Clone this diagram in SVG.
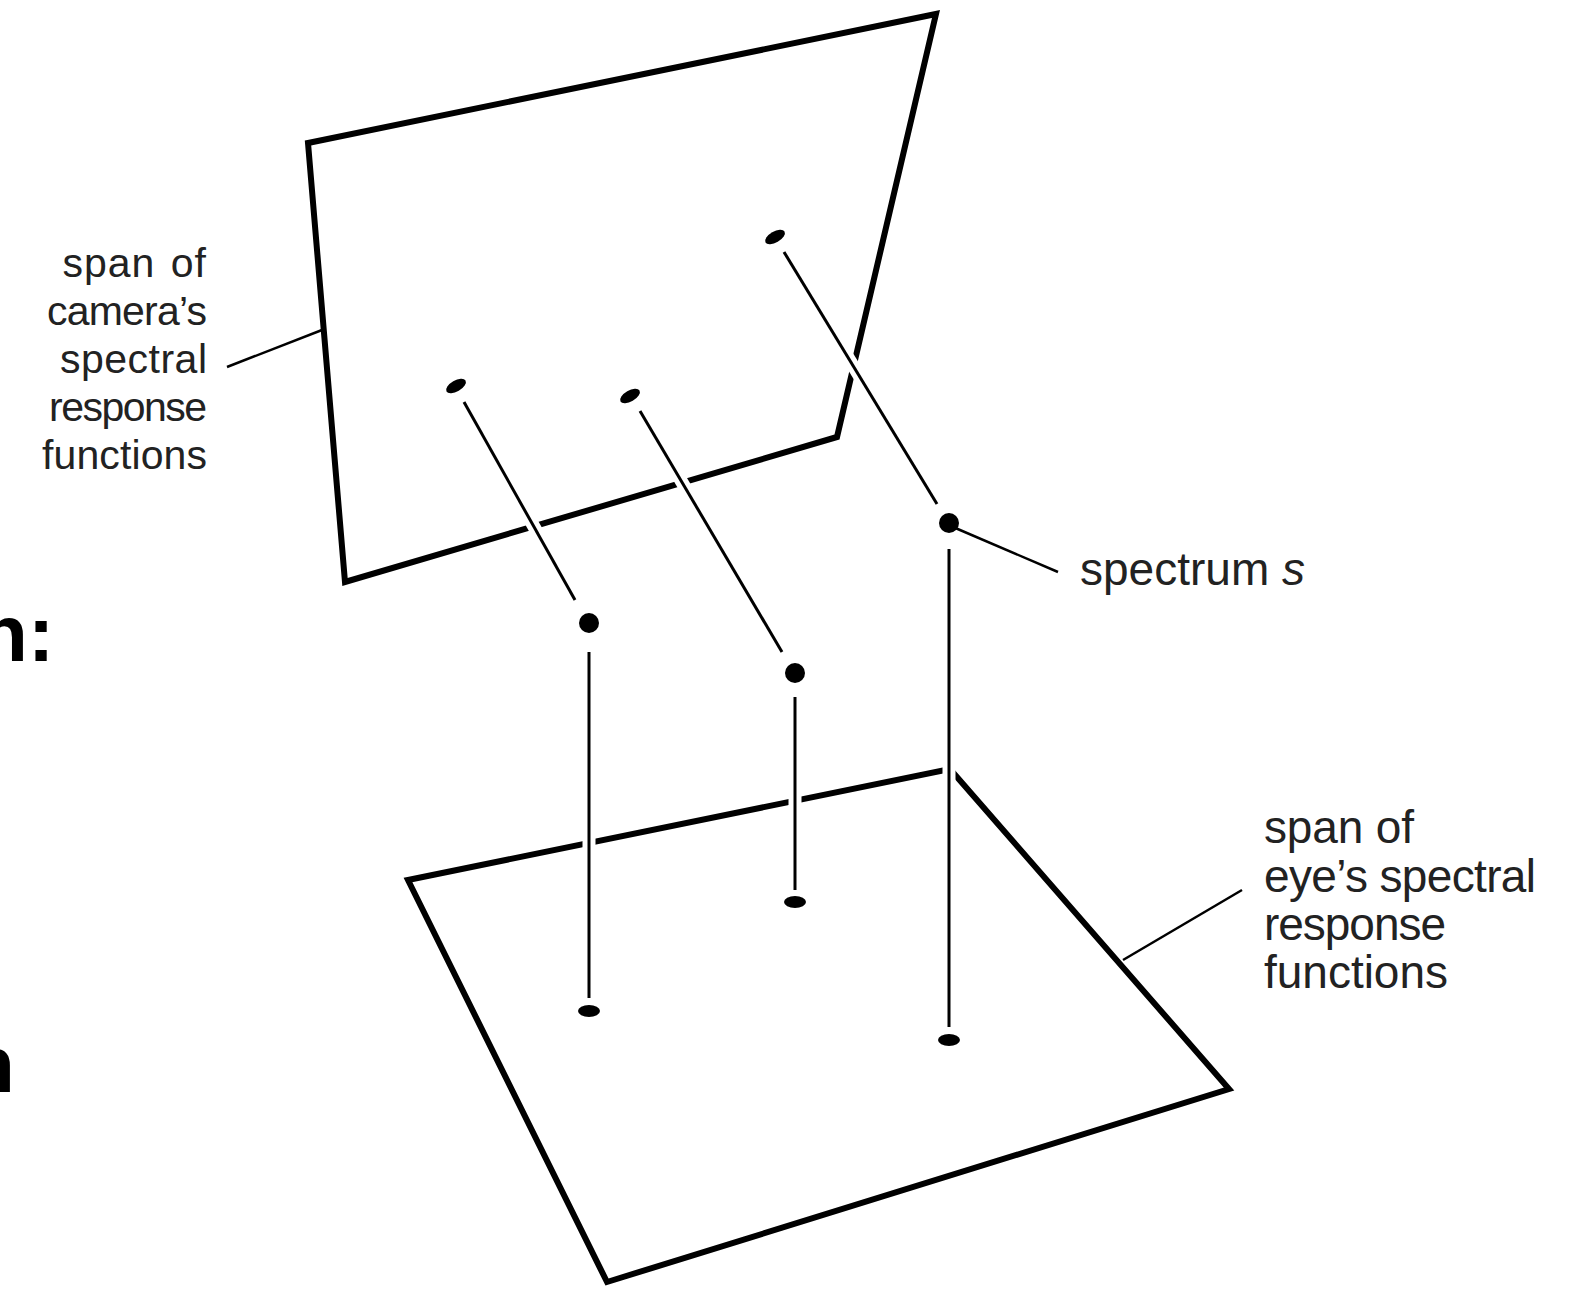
<svg xmlns="http://www.w3.org/2000/svg" width="1571" height="1289" viewBox="0 0 1571 1289">
<style>
.plane{fill:none;stroke:#000;stroke-width:6;stroke-linejoin:miter;stroke-miterlimit:10}
.halo{stroke:#fff;stroke-width:13;fill:none}
.ln{stroke:#000;stroke-width:3;fill:none}
.lead{stroke:#000;stroke-width:2.5;fill:none}
.lbl{font-family:"Liberation Sans",Arial,sans-serif;font-size:41px;fill:#222}
.lbl2{font-family:"Liberation Sans",Arial,sans-serif;font-size:46px;fill:#222}
.big{font-family:"Liberation Sans",Arial,sans-serif;font-size:80px;font-weight:bold;fill:#000}
</style>
<rect width="1571" height="1289" fill="#fff"/>
<text class="big" x="-21" y="661">n:</text>
<text class="big" x="-34" y="1092">n</text>
<g id="camera-plane">
<polygon class="plane" points="308,143 936,14 837,437 345,582"/>
</g>
<g id="eye-plane">
<polygon class="plane" points="408,880 950,769 1229,1089 607,1282"/>
</g>
<g id="connectors">
<line class="halo" x1="464" y1="402" x2="575" y2="600"/>
<line class="halo" x1="640" y1="411" x2="782" y2="652"/>
<line class="halo" x1="784" y1="252" x2="937" y2="504"/>
<line class="halo" x1="589" y1="652" x2="589" y2="998"/>
<line class="halo" x1="795" y1="697" x2="795" y2="890"/>
<line class="halo" x1="949" y1="549" x2="949" y2="1027"/>
<line class="ln" x1="464" y1="402" x2="575" y2="600"/>
<line class="ln" x1="640" y1="411" x2="782" y2="652"/>
<line class="ln" x1="784" y1="252" x2="937" y2="504"/>
<line class="ln" x1="589" y1="652" x2="589" y2="998"/>
<line class="ln" x1="795" y1="697" x2="795" y2="890"/>
<line class="ln" x1="949" y1="549" x2="949" y2="1027"/>
<line class="lead" x1="227" y1="367" x2="322" y2="330"/>
<line class="lead" x1="953" y1="527" x2="1058" y2="572"/>
<line class="lead" x1="1123" y1="960" x2="1242" y2="890"/>
</g>
<g id="dots-camera">
<ellipse cx="456" cy="386" rx="11" ry="5.5" transform="rotate(-30 456 386)"/>
<ellipse cx="630" cy="396" rx="11" ry="5.5" transform="rotate(-30 630 396)"/>
<ellipse cx="775" cy="237" rx="11" ry="5.5" transform="rotate(-30 775 237)"/>
</g>
<g id="dots-spectra">
<circle cx="589" cy="623" r="10"/>
<circle cx="795" cy="673" r="10"/>
<circle cx="949" cy="523" r="10"/>
</g>
<g id="dots-eye">
<ellipse cx="589" cy="1011" rx="11" ry="6"/>
<ellipse cx="795" cy="902" rx="11" ry="6"/>
<ellipse cx="949" cy="1040" rx="11" ry="6"/>
</g>
<g id="label-camera" class="lbl" text-anchor="end">
<text x="207" y="277" letter-spacing="1" word-spacing="3">span of</text>
<text x="207" y="325" textLength="160" lengthAdjust="spacing">camera’s</text>
<text x="207" y="373" textLength="147" lengthAdjust="spacing">spectral</text>
<text x="207" y="421" textLength="158" lengthAdjust="spacing">response</text>
<text x="207" y="469" textLength="165" lengthAdjust="spacing">functions</text>
</g>
<g id="label-spectrum">
<text class="lbl2" x="1080" y="585" textLength="225" lengthAdjust="spacing">spectrum <tspan font-style="italic">s</tspan></text>
</g>
<g id="label-eye" class="lbl2">
<text x="1264" y="843" textLength="150" lengthAdjust="spacing">span of</text>
<text x="1264" y="892" textLength="272" lengthAdjust="spacing">eye’s spectral</text>
<text x="1264" y="940" textLength="182" lengthAdjust="spacing">response</text>
<text x="1264" y="988" textLength="184" lengthAdjust="spacing">functions</text>
</g>
</svg>
